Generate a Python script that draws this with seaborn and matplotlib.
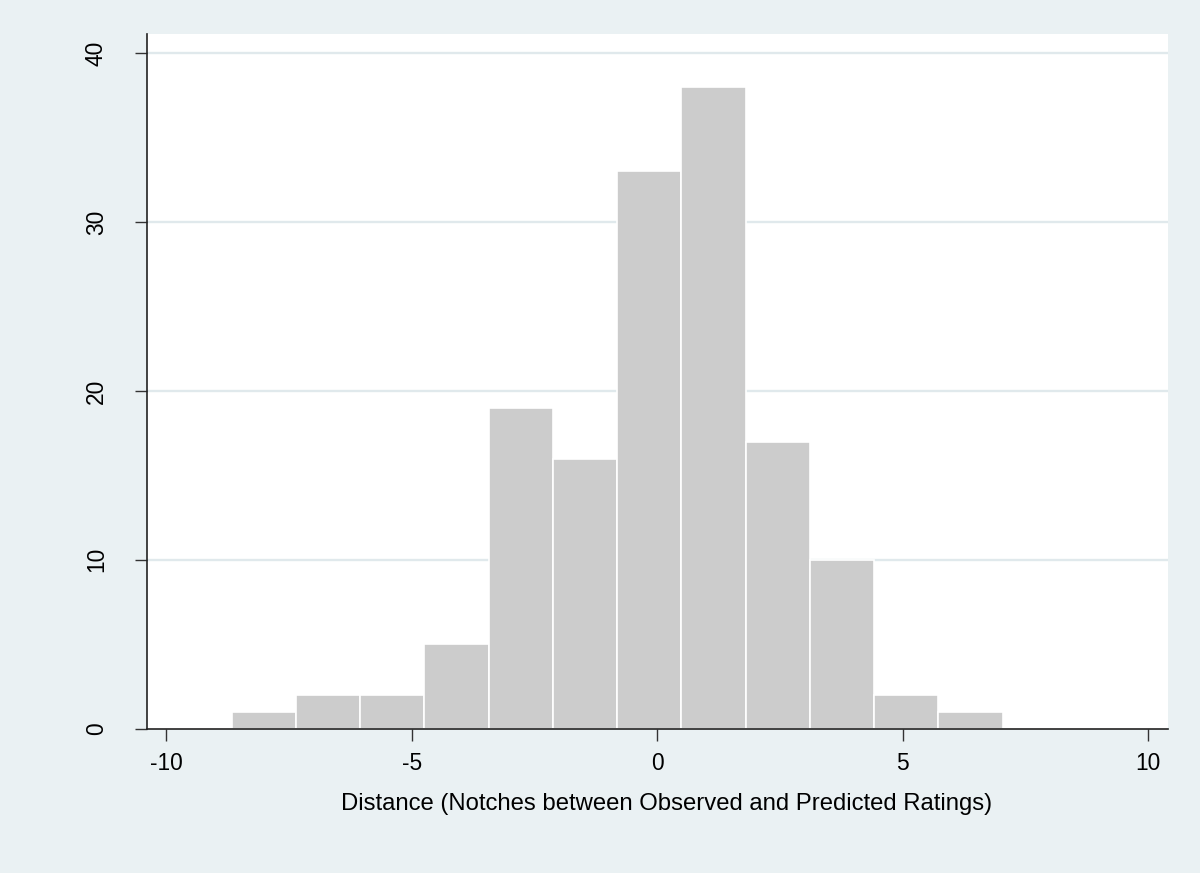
import numpy as np
import pandas as pd
import matplotlib
matplotlib.use("Agg")
import matplotlib.pyplot as plt
import seaborn as sns

# Histogram of rating distances (count per bin)
bin_start = -8.666
bin_width = 1.3085
counts = [1, 2, 2, 5, 19, 16, 33, 38, 17, 10, 2, 1]

x_ticks = [-10, -5, 0, 5, 10]
y_ticks = [0, 10, 20, 30, 40]
x_label = "Distance (Notches between Observed and Predicted Ratings)"

edges = [float(bin_start + bin_width * i) for i in range(len(counts) + 1)]
centers = [(a + b) / 2 for a, b in zip(edges[:-1], edges[1:])]
df = pd.DataFrame({"distance": centers, "n": counts})

bg = "#EAF1F3"
grid_c = "#E0E9EC"

sns.set_theme(style="white")
plt.rcParams["font.family"] = ["Liberation Sans", "DejaVu Sans"]

fig = plt.figure(figsize=(12, 8.73), dpi=100, facecolor=bg)
ax = fig.add_axes([0.1225, 0.1653, 0.8506, 0.7958])
ax.set_facecolor("white")

ax.set_xlim(-10.39, 10.40)
ax.set_ylim(0, 41.14)
for y in y_ticks[1:]:
    ax.axhline(y, color=grid_c, lw=1.7, zorder=0)

sns.histplot(data=df, x="distance", weights="n", bins=edges, ax=ax,
             color="#CCCCCC", alpha=1.0, edgecolor="white", linewidth=1.2,
             zorder=2)

ax.set_xticks(x_ticks)
ax.set_xticklabels([str(v) for v in x_ticks])
ax.set_yticks(y_ticks)
ax.set_yticklabels([str(v) for v in y_ticks], rotation=90, va="center")

ax.tick_params(axis="both", which="major", length=8.6, width=1.0,
               color="#333333", labelsize=16.4, labelcolor="black")
ax.tick_params(axis="x", pad=8.5, bottom=True)
ax.tick_params(axis="y", pad=19.5, left=True)

for side in ["top", "right"]:
    ax.spines[side].set_visible(False)
for side in ["left", "bottom"]:
    ax.spines[side].set_color("#222222")
    ax.spines[side].set_linewidth(1.2)

ax.set_xlabel(x_label, fontsize=17.2, labelpad=13, color="black")
ax.xaxis.label.set_x(0.509)
ax.set_ylabel("")

fig.savefig("out.png", dpi=100, facecolor=bg)
